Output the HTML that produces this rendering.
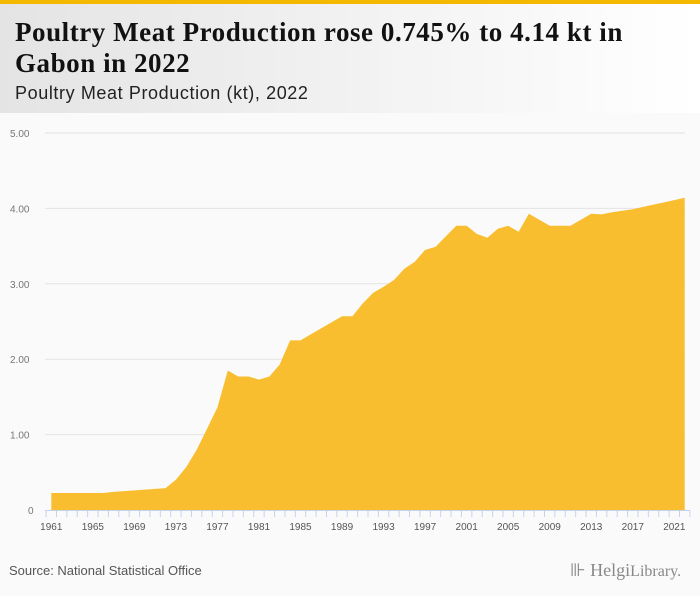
<!DOCTYPE html>
<html><head><meta charset="utf-8"><style>
body{margin:0;width:700px;height:596px;overflow:hidden;background:#fafafa;font-family:"Liberation Sans",sans-serif}
#hdr{position:absolute;left:0;top:0;width:700px;height:113px;background:linear-gradient(90deg,#e4e4e4,#fff);border-top:4px solid #f5b800;box-sizing:border-box}
#t{position:absolute;left:15px;top:13px;font:bold 27px/31px "Liberation Serif",serif;color:#111;letter-spacing:0.55px}
#st{position:absolute;left:15px;top:79px;font:18px "Liberation Sans",sans-serif;color:#222;letter-spacing:0.6px}
#src{position:absolute;left:9px;top:563px;font:13px "Liberation Sans",sans-serif;color:#555}
#logo{position:absolute;left:570px;top:560px;font:18px "Liberation Serif",serif;color:#888}
</style></head><body>
<div id="hdr">
<div id="t">Poultry Meat Production rose 0.745% to 4.14 kt in<br>Gabon in 2022</div>
<div id="st">Poultry Meat Production (kt), 2022</div>
</div>
<svg id="c" width="700" height="596" style="position:absolute;left:0;top:0"></svg>
<div id="src">Source: National Statistical Office</div>
<div id="logo">⊪ Helgi<span style="font-size:16px">Library.</span></div>
<script>
const years=[];for(let y=1961;y<=2022;y++)years.push(y);
const values=[0.225,0.225,0.225,0.225,0.225,0.225,0.24,0.25,0.26,0.27,0.28,0.29,0.40,0.57,0.80,1.08,1.36,1.85,1.77,1.77,1.73,1.77,1.93,2.25,2.25,2.33,2.41,2.49,2.57,2.57,2.74,2.88,2.96,3.05,3.20,3.29,3.45,3.49,3.63,3.77,3.77,3.66,3.61,3.73,3.77,3.69,3.93,3.85,3.77,3.77,3.77,3.85,3.93,3.92,3.95,3.97,3.99,4.02,4.05,4.08,4.11,4.14];
const yTicks=[0,1,2,3,4,5];
const yTickLabels=["0","1.00","2.00","3.00","4.00","5.00"];
const xLabelYears=[1961,1965,1969,1973,1977,1981,1985,1989,1993,1997,2001,2005,2009,2013,2017,2021];
const NS="http://www.w3.org/2000/svg",svg=document.getElementById('c');
const x=v=>51.3+(v-1961)*(684.7-51.3)/61;
const y=v=>510-v*75.4;
function mk(t,a){const e=document.createElementNS(NS,t);for(const k in a)e.setAttribute(k,a[k]);svg.appendChild(e);return e;}
yTicks.forEach((t,i)=>{
 if(t>0){const g=mk('line',{x1:45,x2:685,y1:y(t),y2:y(t),stroke:'#e3e3e3','stroke-width':1});
 
 }
 const l=mk('text',{x:t==0?28:10,y:y(t)+4,'font-size':10,fill:'#777','font-family':'Liberation Sans'});
 l.textContent=yTickLabels[i];
 
 
});
let d='M'+x(years[0])+','+y(0);
years.forEach((yr,i)=>{d+=' L'+x(yr).toFixed(1)+','+y(values[i]).toFixed(1);});
d+=' L'+x(years[years.length-1])+','+y(0)+' Z';
const area=mk('path',{d:d,fill:'#f9b81e',opacity:0.92});


const ax=mk('line',{x1:45,x2:690,y1:510.5,y2:510.5,stroke:'#c5d3ea'});


years.concat([2023]).forEach(yr=>{const tk=mk('line',{x1:x(yr)-5.2,x2:x(yr)-5.2,y1:510,y2:517,stroke:'#c5d3ea'});
 
 });
xLabelYears.forEach(yr=>{const l=mk('text',{x:x(yr),y:530,'font-size':10,fill:'#555','text-anchor':'middle','font-family':'Liberation Sans'});
 l.textContent=yr;
 
 });
</script>
</body></html>
